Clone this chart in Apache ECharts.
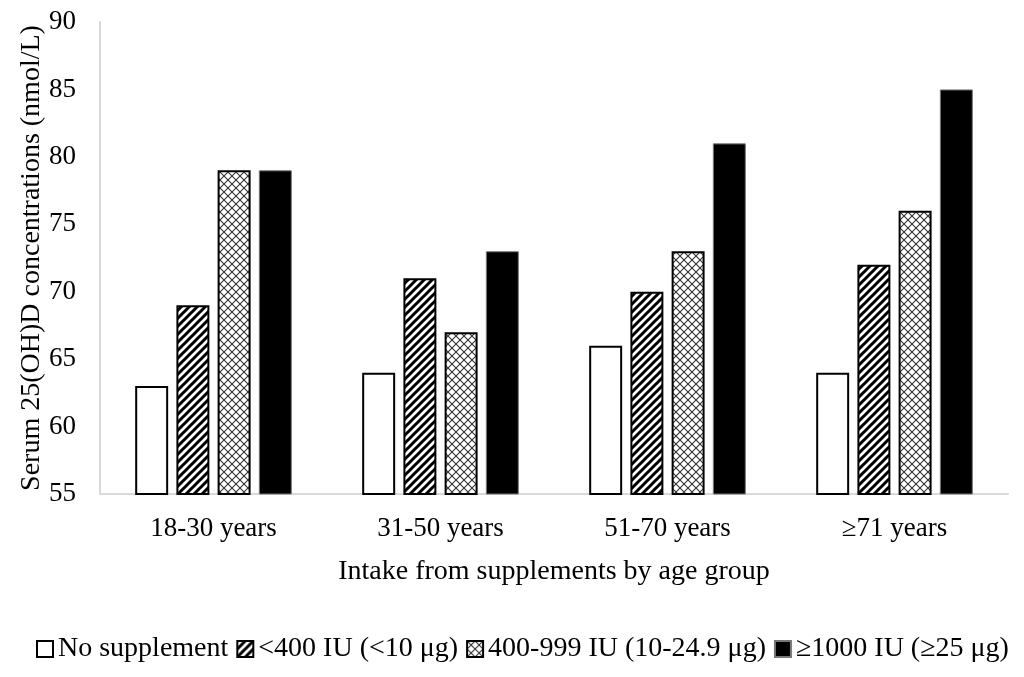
<!DOCTYPE html>
<html>
<head>
<meta charset="utf-8">
<script src="https://cdn.jsdelivr.net/npm/echarts@6/dist/echarts.min.js"></script>
<style>html,body{margin:0;padding:0;background:#fff}#c{width:1024px;height:677px}</style>
</head>
<body>
<div id="c"></div>
<script>
const categories = ['18-30 years', '31-50 years', '51-70 years', '\u226571 years'];
const seriesNames = ['No supplement', '<400 IU (<10 \u03bcg)', '400-999 IU (10-24.9 \u03bcg)', '\u22651000 IU (\u226525 \u03bcg)'];
const noSupplement = [63, 64, 66, 64];
const under400 = [69, 71, 70, 72];
const from400to999 = [79, 67, 73, 76];
const over1000 = [79, 73, 81, 85];
const yTicks = [55, 60, 65, 70, 75, 80, 85, 90];

function stripePattern() {
  const s = 8, c = document.createElement('canvas');
  c.width = s; c.height = s;
  const g = c.getContext('2d');
  g.fillStyle = '#fff'; g.fillRect(0, 0, s, s);
  g.strokeStyle = '#000'; g.lineWidth = 3;
  g.beginPath();
  g.moveTo(-2, s + 2); g.lineTo(s + 2, -2);
  g.moveTo(-4, 4); g.lineTo(4, -4);
  g.moveTo(4, 12); g.lineTo(12, 4);
  g.stroke();
  return c;
}
function crossPattern() {
  const s = 8, c = document.createElement('canvas');
  c.width = s; c.height = s;
  const g = c.getContext('2d');
  g.fillStyle = '#fff'; g.fillRect(0, 0, s, s);
  g.strokeStyle = '#333'; g.lineWidth = 1.1;
  g.beginPath();
  g.moveTo(0, 0); g.lineTo(s, s);
  g.moveTo(0, s); g.lineTo(s, 0);
  g.stroke();
  return c;
}

const font = 'Liberation Serif';
const fs = 27;
const chart = echarts.init(document.getElementById('c'), null, {renderer: 'canvas'});
const fills = ['#fff', {image: stripePattern(), repeat: 'repeat'}, {image: crossPattern(), repeat: 'repeat'}, '#000'];
const dataSets = [noSupplement, under400, from400to999, over1000];
const series = dataSets.map((d, i) => ({
  name: seriesNames[i],
  type: 'bar',
  data: d,
  barGap: '25%',
  barCategoryGap: '31%',
  itemStyle: {
    color: fills[i],
    borderColor: i === 3 ? '#777' : '#000',
    borderWidth: i === 3 ? 1 : 2
  },
  emphasis: {disabled: true}
}));

chart.setOption({
  animation: false,
  backgroundColor: '#fff',
  textStyle: {fontFamily: font, color: '#000'},
  grid: {left: 100, right: 16, top: 22, bottom: 183, containLabel: false},
  legend: {
    top: 630, left: 31,
    itemWidth: 16, itemHeight: 16, itemGap: 8,
    icon: 'rect',
    textStyle: {fontFamily: font, fontSize: 28, color: '#000'},
    data: seriesNames
  },
  xAxis: {
    type: 'category',
    data: categories,
    axisLine: {lineStyle: {color: '#d9d9d9', width: 2}},
    axisTick: {show: false},
    axisLabel: {fontFamily: font, fontSize: fs, color: '#000', margin: 21},
    name: 'Intake from supplements by age group',
    nameLocation: 'middle',
    nameGap: 64,
    nameMoveOverlap: false,
    nameTextStyle: {fontFamily: font, fontSize: 28, color: '#000'}
  },
  yAxis: {
    type: 'value',
    min: yTicks[0], max: yTicks[yTicks.length - 1], interval: 5,
    axisLine: {show: true, lineStyle: {color: '#d9d9d9', width: 2}},
    axisTick: {show: false},
    splitLine: {show: false},
    axisLabel: {fontFamily: font, fontSize: fs, color: '#000', margin: 24},
    name: 'Serum 25(OH)D concentrations (nmol/L)',
    nameLocation: 'middle',
    nameGap: 54,
    nameMoveOverlap: false,
    nameTextStyle: {fontFamily: font, fontSize: 28, color: '#000'}
  },
  series: series
});
</script>
</body>
</html>
